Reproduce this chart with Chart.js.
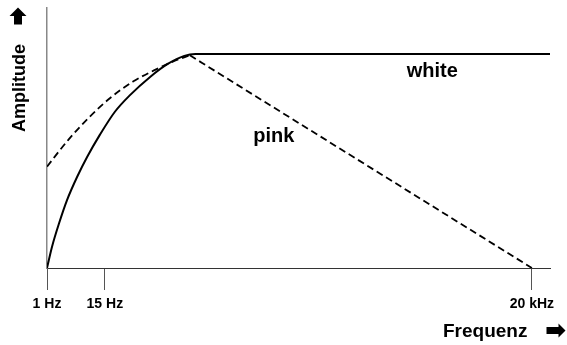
<!DOCTYPE html>
<html>
<head>
<meta charset="utf-8">
<script src="https://cdn.jsdelivr.net/npm/chart.js@4/dist/chart.umd.min.js"></script>
<style>
  html, body { margin: 0; padding: 0; background: #fff; }
  #wrap { width: 567px; height: 345px; }
</style>
</head>
<body>
<div id="wrap"><canvas id="noiseChart"></canvas></div>
<script>
// frequency position (0..100, not to scale) and relative amplitude (0..100)
const whiteX = [0, 1, 2.4, 4, 6, 8, 10.5, 13.5, 16.5, 20.5, 24, 27.3, 29.5, 100];
const whiteY = [0, 8.2, 17.2, 26.2, 35.1, 42.8, 51.2, 60.1, 66.5, 73.5, 78.5, 81.6, 82.3, 82.3];
const pinkRiseX = [0, 4.2, 8.5, 12.5, 17.1, 21.8, 25.8, 28.4];
const pinkRiseY = [39, 49.2, 58.2, 65.3, 71.7, 76.5, 80, 81.8];
const pinkFallX = [28.4, 96.4];
const pinkFallY = [81.8, 0];

const tickPos = [0, 11.5, 96.4];
const tickLabels = ['1 Hz', '15 Hz', '20 kHz'];

const curveLabels = [
  { text: 'white', x: 76.6, y: 73.5 },
  { text: 'pink', x: 45.1, y: 48.6 }
];

function toPoints(xs, ys) {
  return xs.map((x, i) => ({ x: x, y: ys[i] }));
}

const FONT = 'Arial, "Liberation Sans", Helvetica, sans-serif';

// block arrow pointing right, drawn around (0,0) tip at +len/2
function blockArrow(ctx, len, head, shaft) {
  ctx.beginPath();
  ctx.moveTo(-len / 2, -shaft / 2);
  ctx.lineTo(len / 2 - head * 0.5, -shaft / 2);
  ctx.lineTo(len / 2 - head * 0.5, -head / 2);
  ctx.lineTo(len / 2, 0);
  ctx.lineTo(len / 2 - head * 0.5, head / 2);
  ctx.lineTo(len / 2 - head * 0.5, shaft / 2);
  ctx.lineTo(-len / 2, shaft / 2);
  ctx.closePath();
  ctx.fill();
}

const labelPlugin = {
  id: 'labels',
  afterDraw(chart) {
    const ctx = chart.ctx;
    const xs = chart.scales.x, ys = chart.scales.y;
    ctx.save();
    ctx.fillStyle = '#000';
    ctx.font = 'bold 20px ' + FONT;
    ctx.textAlign = 'center';
    ctx.textBaseline = 'alphabetic';
    curveLabels.forEach(l => {
      ctx.fillText(l.text, xs.getPixelForValue(l.x), ys.getPixelForValue(l.y));
    });

    // x axis title
    ctx.textAlign = 'left';
    ctx.font = 'bold 19px ' + FONT;
    ctx.fillText('Frequenz', 443, 337);
    ctx.save();
    ctx.translate(556, 330.5);
    blockArrow(ctx, 19, 14, 7);
    ctx.restore();

    // y axis title
    ctx.save();
    ctx.translate(25, 132);
    ctx.rotate(-Math.PI / 2);
    ctx.font = 'bold 18px ' + FONT;
    ctx.fillText('Amplitude', 0, 0);
    ctx.restore();
    ctx.save();
    ctx.translate(18, 16);
    ctx.rotate(-Math.PI / 2);
    blockArrow(ctx, 17, 17, 8);
    ctx.restore();
    ctx.restore();
  }
};

const lineStyle = { borderColor: '#000', pointRadius: 0, cubicInterpolationMode: 'monotone' };

new Chart(document.getElementById('noiseChart'), {
  type: 'line',
  data: {
    datasets: [
      Object.assign({ label: 'white', data: toPoints(whiteX, whiteY), borderWidth: 2 }, lineStyle),
      Object.assign({ label: 'pink', data: toPoints(pinkRiseX, pinkRiseY), borderWidth: 1.8, borderDash: [7, 4] }, lineStyle),
      Object.assign({ label: 'pink', data: toPoints(pinkFallX, pinkFallY), borderWidth: 1.8, borderDash: [7, 4] }, lineStyle)
    ]
  },
  options: {
    responsive: true,
    maintainAspectRatio: false,
    animation: false,
    layout: { padding: { left: 0, right: 17, top: 8, bottom: 0 } },
    plugins: {
      legend: { display: false },
      tooltip: { enabled: false }
    },
    scales: {
      x: {
        type: 'linear',
        min: 0,
        max: 100,
        afterBuildTicks(scale) {
          scale.ticks = tickPos.map(v => ({ value: v }));
        },
        afterFit(scale) { scale.height = 77; },
        ticks: {
          autoSkip: false,
          maxRotation: 0,
          color: '#000',
          font: { family: FONT, size: 14, weight: 'bold' },
          padding: 6,
          callback(value, index) { return tickLabels[index]; }
        },
        grid: {
          drawOnChartArea: false,
          drawTicks: true,
          tickLength: 22,
          color: '#555',
          lineWidth: 1
        },
        border: { display: true, color: '#333', width: 1 }
      },
      y: {
        min: 0,
        max: 100,
        afterFit(scale) { scale.width = 47; },
        ticks: { display: false },
        grid: { display: false, drawTicks: false },
        border: { display: true, color: '#888', width: 1.5 }
      }
    }
  },
  plugins: [labelPlugin]
});
</script>
</body>
</html>
